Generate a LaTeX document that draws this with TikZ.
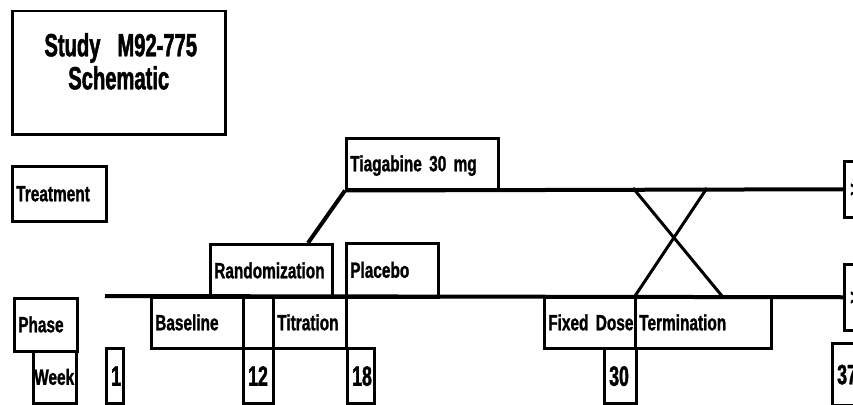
\documentclass[tikz,border=0pt]{standalone}
\usepackage{fontspec}
\newfontfamily\labelfont{Liberation Sans Bold}[FakeStretch=0.7, FakeBold=1.2]
\newfontfamily\headfont{Liberation Sans Bold}[FakeStretch=0.63, FakeBold=1.5]
\newcommand\tightspace{\spaceskip 3pt\relax}
\usepackage{tikz}

\begin{document}
\begin{tikzpicture}[
    x=1pt, y=-1pt,
    schembox/.style={draw, line width=2.5pt, anchor=north west, inner xsep=0pt, inner ysep=0pt, align=left,
        text height=16pt, text depth=1pt,
        font=\labelfont\fontsize{22}{24}\selectfont\tightspace, execute at begin node=\hspace*{4pt}},
    weekbox/.style={schembox, text height=20pt, text depth=0pt,
        font=\headfont\fontsize{28}{30}\selectfont, execute at begin node=\hspace*{1pt}},
    boxsize/.style 2 args={text width=#1, minimum height=#2},
    timeline/.style={line width=4pt},
]
    \useasboundingbox (0,0) rectangle (853,404);
    \clip (0,0) rectangle (853,404);

    % Title
    \node[schembox, boxsize={213pt}{123pt}, align=center, text height=23pt, text depth=56pt,
        font=\headfont\fontsize{32}{33}\selectfont, execute at begin node={}] (title) at (11,10)
        {Study\hspace{17pt}M92-775\\Schematic};

    % Row labels
    \node[schembox, boxsize={94pt}{55pt}] (treat) at (11,165) {Treatment};
    \node[schembox, boxsize={63pt}{53pt}] (phase) at (13,297) {Phase};
    \node[schembox, boxsize={43pt}{52pt}, execute at begin node=\hspace*{-3pt}] (week) at (32,350) {Week};

    % Treatment arms
    \node[schembox, boxsize={152pt}{51pt}] (tiag) at (345,137) {Tiagabine 30 mg};
    \node[schembox, boxsize={122pt}{53pt}] (rand) at (209,243) {Randomization};
    \node[schembox, boxsize={92pt}{54pt}] (placebo) at (345,242) {Placebo};
    \node[schembox, boxsize={40pt}{56pt}, execute at begin node=\hspace*{2pt}] (rup) at (843,160) {>};
    \node[schembox, boxsize={40pt}{66pt}, execute at begin node=\hspace*{2pt}] (rlow) at (843,263) {>};

    % Phases
    \node[schembox, boxsize={92pt}{51pt}] (base) at (150,296) {Baseline};
    \node[schembox, boxsize={30pt}{51pt}] (gap) at (242,296) {};
    \node[schembox, boxsize={73pt}{51pt}] (titr) at (272,296) {Titration};
    \node[schembox, boxsize={91pt}{51pt}] (fixed) at (543,296) {Fixed Dose};
    \node[schembox, boxsize={136pt}{51pt}] (term) at (634,296) {Termination};

    % Weeks
    \node[weekbox, boxsize={17pt}{55pt}] (w1) at (105,347) {1};
    \node[weekbox, boxsize={30pt}{55pt}] (w12) at (242,347) {12};
    \node[weekbox, boxsize={27pt}{55pt}] (w18) at (346,347) {18};
    \node[weekbox, boxsize={32pt}{55pt}] (w30) at (603,347) {30};
    \node[weekbox, boxsize={40pt}{62pt}] (w37) at (831,342) {37};

    % Timelines
    \coordinate (tlstart) at (105,296);
    \coordinate (randtop) at (308,243);
    \draw[timeline] (tiag.south west) -- (rup.west);
    \draw[timeline] (tiag.south west) -- (randtop);
    \draw[timeline] (tlstart) -- (rlow.west);

    % Crossover
    \coordinate (xtl) at (633,188);
    \coordinate (xtr) at (707,188);
    \coordinate (xbl) at (635,296);
    \coordinate (xbr) at (722,296);
    \draw[timeline, line width=3pt] (xtl) -- (xbr);
    \draw[timeline, line width=3pt] (xtr) -- (xbl);
\end{tikzpicture}
\end{document}
